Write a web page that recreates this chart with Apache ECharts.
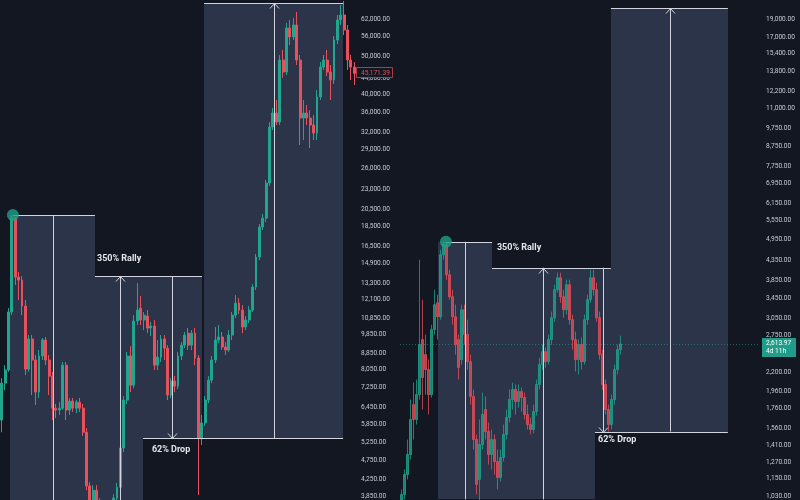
<!DOCTYPE html>
<html><head><meta charset="utf-8">
<script src="https://cdn.jsdelivr.net/npm/echarts@6/dist/echarts.min.js"></script>
<style>html,body{margin:0;padding:0;background:#131722;}#c{width:800px;height:500px;}</style>
</head><body><div id="c"></div>
<script>
// ---------- DATA ----------
// Left panel candles: [open, close, low, high]
const leftCandles = [
[5990,7430,5580,7650],[7430,8020,7130,8250],[8020,11240,7930,11500],[11240,19430,11040,19780],[19430,13780,13150,19500],
[13780,13540,12050,14190],[13540,11640,11040,13860],[11640,8060,7790,12050],[8060,9610,7930,9830],[9610,8500,6930,9830],
[8500,7050,6540,8750],[7050,8700,6810,9010],[8700,9550,8500,9660],[9550,8500,8250,9720],[8500,7740,6930,8750],
[7740,6420,5990,7930],[6420,6350,6060,6580],[6350,6420,6170,6650],[6420,8250,6350,8400],[8250,6350,5990,8400],
[6350,6690,6170,6810],[6690,6420,6280,6810],[6420,6650,6240,6730],[6650,6420,6280,6810],[6420,5580,5460,6580],
[5580,4080,3980,5720],[4080,3760,3650,4170],[3760,3980,3540,4100],[3980,3650,3440,4100],[3650,3340,3150,3800],
[3340,3440,3150,3650],[3440,3250,3120,3580],[3250,3540,3150,3650],[3540,3800,3440,3890],[3800,4050,3650,4150],
[4050,5090,3980,5180],[5090,6730,4970,6890],[6730,8700,6580,8900],[8700,7340,7050,9220],[7340,10670,7210,11040],
[10670,11370,10420,13300],[11500,10730,10420,12340],[10730,11040,10120,11240],[10980,10240,9950,11370],[10240,10360,9770,10610],
[10360,8250,8020,10730],[8250,8650,8020,9550],[8650,9610,8400,9830],[9610,9110,8500,9830],[9110,6930,6730,9270],
[6930,7520,6810,7650],[7520,7300,7050,7740],[7300,8700,7170,8900],[8700,9270,8500,9440],[9270,9830,9110,10010],
[9940,9270,9010,10240],[9270,9940,9010,10120],[9940,8600,8250,10240],[8600,5390,3870,8750],[5390,5890,5180,6170],
[5890,6730,5790,6890],[6730,7560,6610,7740],[7560,8500,7430,8700],[8500,9550,8350,10300],[9550,9720,9380,10420],
[9720,9170,9010,10010],[9170,9010,8750,9440],[9010,9830,8900,10120],[9830,11040,9550,11240],[11040,11840,10850,12410],
[11840,11370,11100,12190],[11370,10300,9940,11710],[10300,10730,10120,10980],[10730,11370,10540,11640],[11370,13000,11240,13220],
[13000,15490,12780,15760],[15490,18450,15220,18770],[18450,19430,18130,19900],[19430,23840,18990,24260],[23840,33040,23420,34010],
[33040,35840,32470,36900],[35840,34010,33430,38670],[34010,48820,33430,50270],[48820,45520,44000,51750],[45520,58820,44740,60580],
[58820,55830,53280,61640],[55830,59870,54860,62370],[59870,48820,47420,64580],[48820,34810,29750,50270],[34810,35840,30630,38670],
[35840,34810,33430,37560],[34810,33430,29230,36480],[33430,31900,30630,35430],[31900,39350,30630,40990],[39350,46850,38670,48250],
[46850,48820,46060,50270],[48820,45520,44480,51750],[45520,43450,38670,47420],[43450,54860,42440,56160],[54860,61640,53590,63460],
[61640,63460,59920,67270],[63460,58150,56480,68860],[58150,48820,46060,59870],[48820,46850,43450,50270],[46850,45171.39,42200,48250]
];
// Right panel candles: [open, close, low, high]
const rightCandles = [
[896,1043,869,1075],[1043,1178,1012,1215],[1178,1331,1143,1458],[1331,1648,1291,1861],[1805,1648,1458,2065],
[1648,1919,1598,2103],[1919,2603,1861,4371],[2684,2129,1751,3424],[2449,2235,1919,2767],[2235,1919,1699,2375],
[1919,2852,1884,2940],[2852,3322,2767,3640],[3362,3087,2684,3530],[3087,4506,3031,4645],[4506,4789,4371,4877],
[4789,3988,3869,4850],[3988,3487,3424,4112],[3487,3087,2940,3640],[3087,2603,2449,3322],[2684,2262,2103,2767],
[2375,3222,2304,3322],[3222,2767,2603,3322],[2767,2346,2235,3031],[2346,1896,1805,2449],[1896,1458,1372,1978],
[1458,1109,1043,1504],[1143,1415,981,1648],[1415,1699,1372,1942],[1751,1531,1458,1896],[1531,1331,1252,1618],
[1331,1458,1215,1550],[1458,1275,1178,1504],[1275,1157,1075,1372],[1157,1307,1129,1372],[1307,1504,1275,1598],
[1504,1668,1458,1751],[1668,1861,1618,1978],[1861,1978,1751,2065],[1978,1839,1699,2040],[1839,1954,1772,2040],
[1954,1884,1730,2003],[1884,1699,1648,1942],[1699,1598,1550,1805],[1598,1550,1504,1668],[1550,1730,1513,1805],
[1730,2040,1689,2103],[2040,2304,1978,2404],[2304,2494,2235,2603],[2494,2346,2262,2556],[2346,2684,2304,2767],
[2684,3068,2603,3184],[3068,3640,2994,3752],[3640,3916,3574,4037],[3916,3487,3362,4037],[3487,3222,3068,3640],
[3222,3752,3125,3869],[3752,3031,2940,3869],[3031,2684,2525,3125],[2684,2375,2208,2817],[2375,2603,2168,2684],
[2603,2346,2235,2717],[2346,3031,2304,3125],[3031,3424,2940,3530],[3424,3916,3362,4112],[3916,3640,3509,4112],
[3640,3068,2994,3798],[3068,2449,2375,3184],[2449,2040,1978,2525],[2040,1751,1699,2103],[1751,1598,1531,1805],
[1598,1861,1550,1919],[1861,2235,1805,2304],[2235,2525,2168,2603],[2525,2613.97,2449,2750]
];
// Price-scale tick labels
const leftTicks = [62000,56000,50000,44000,40000,36000,32000,29000,26000,23000,20500,18500,16500,14900,13300,12100,10850,9850,8850,8050,7250,6450,5850,5250,4750,4250,3850];
const rightTicks = [19000,17000,15400,13800,12200,11000,9750,8750,7750,6950,6150,5550,4950,4350,3850,3450,3050,2750,2200,1960,1760,1560,1410,1270,1150,1030];
// Visible price ranges (bottom, top)
const leftRange = [3760, 69260];
const rightRange = [1012, 21334];
// Price-range drawings (bar index from, bar index to, price low, price high)
const leftBoxes = [[2.45,27.5,3760,19780],[27.5,41.7,3760,13870],[41.7,59.1,5390,13870],[59.7,100.7,5390,68000]];
const rightBoxes = [[12.2,30.2,1012,4877],[30.2,64.5,1012,4163],[64.5,69.8,1531,4163],[69.8,108.8,1531,20300]];
// Horizontal edges (bar from, bar to, price)
const leftEdges = [[3.3,27.5,19780],[27.5,59.1,13870],[41.7,100.7,5390],[59.7,100.7,68000]];
const rightEdges = [[14.8,30.2,4877],[30.2,69.8,4163],[64.5,108.8,1531],[69.8,108.8,20300]];
// Vertical measures (bar, price from, price to, arrow at end 1/0)
const leftMeasures = [[15.1,19780,3760,0],[34.9,3760,13870,1],[50.2,13870,5390,1],[80.3,5390,68000,1]];
const rightMeasures = [[21.2,4877,1012,0],[47.2,1012,4163,1],[67.2,4163,1531,1],[89.5,1531,20300,1]];
// Text labels (bar, price)
const leftLabelPos = [[28.1,15310],[44.3,5030]];
const rightLabelPos = [[31.8,4700],[65.5,1458]];
const labelTexts = ['350% Rally','62% Drop'];
// Peak markers
const leftPeak = [[3.3,19780]];
const rightPeak = [[14.8,4877]];
// Last prices
const leftLast = 45171.39;
const rightLast = 2613.97;
const rightCountdown = '4d 11h';

// ---------- STYLE ----------
const BG = '#131722', BOX = '#2b3448', LINE = '#d1d4dc', UP = '#22a58e', DOWN = '#e8505b';
const TXT = '#c9ccd4';

function fmt(v){
  const s = Number(v).toFixed(2); const parts = s.split('.');
  return parts[0].replace(/\B(?=(\d{3})+(?!\d))/g, ',') + '.' + parts[1];
}
function renderBox(params, api){
  const a = api.coord([api.value(0), api.value(3)]);
  const b = api.coord([api.value(1), api.value(2)]);
  const x0 = Math.round(a[0]), x1 = Math.round(b[0]), y0 = Math.round(a[1]), y1 = Math.round(b[1]);
  return {type:'rect', shape:{x:x0, y:y0, width:x1-x0, height:y1-y0}, style:{fill:BOX}};
}
function renderEdge(params, api){
  const a = api.coord([api.value(0), api.value(2)]);
  const b = api.coord([api.value(1), api.value(2)]);
  const y = Math.round(a[1]) + 0.5;
  return {type:'line', shape:{x1:a[0], y1:y, x2:b[0], y2:y}, style:{stroke:LINE, lineWidth:1}};
}
function renderMeasure(params, api){
  const a = api.coord([api.value(0), api.value(1)]);
  const b = api.coord([api.value(0), api.value(2)]);
  const x = Math.round(a[0]) + 0.5;
  const children = [{type:'line', shape:{x1:x, y1:a[1], x2:x, y2:b[1]}, style:{stroke:LINE, lineWidth:1}}];
  if (api.value(3)) {
    const y = Math.round(b[1]) + 0.5;
    const d = b[1] < a[1] ? 1 : -1;
    children.push({type:'polyline', shape:{points:[[x-4.5, y+5*d],[x, y],[x+4.5, y+5*d]]}, style:{stroke:LINE, lineWidth:1, fill:null}});
  }
  return {type:'group', children};
}
function renderLabel(params, api){
  const p = api.coord([api.value(0), api.value(1)]);
  return {type:'text', x:p[0], y:p[1], style:{text:labelTexts[params.dataIndex], fill:'#e4e6eb', font:'bold 9px Roboto', align:'left', verticalAlign:'middle'}};
}
function yAxis(gridIndex, range, ticks, margin){
  return {type:'log', logBase:10, gridIndex, position:'right', min:range[0], max:range[1],
    axisLine:{show:false}, axisTick:{show:false}, splitLine:{show:false},
    axisLabel:{customValues:ticks, formatter:fmt, color:TXT, fontSize:6.6, fontFamily:'Roboto', margin}};
}
function candleSeries(idx, data, bw, op){
  return {type:'candlestick', xAxisIndex:idx, yAxisIndex:idx, z:2, barWidth:bw, silent:true,
    data:data.map((d,i)=>[i].concat(d)),
    itemStyle:{color:UP, color0:DOWN, borderColor:UP, borderColor0:DOWN, borderWidth:1, opacity:op}};
}
function customSeries(idx, data, render, encode, z){
  return {type:'custom', xAxisIndex:idx, yAxisIndex:idx, z, silent:true, data, encode, renderItem:render};
}

const option = {
  backgroundColor: BG,
  animation: false,
  grid: [{left:0, top:0, width:356, height:500}, {left:400, top:0, width:360, height:500}],
  xAxis: [{type:'value', gridIndex:0, min:-0.5, max:104.5, show:false},
          {type:'value', gridIndex:1, min:-0.5, max:119.5, show:false}],
  yAxis: [yAxis(0, leftRange, leftTicks, 5), yAxis(1, rightRange, rightTicks, 6)],
  series: [
    customSeries(0, leftBoxes, renderBox, {x:[0,1], y:[2,3]}, 1),
    customSeries(1, rightBoxes, renderBox, {x:[0,1], y:[2,3]}, 1),
    customSeries(1, [[-0.5, rightLast],[119.5, rightLast]], function(params, api){
      if (params.dataIndex !== 0) return null;
      const a = api.coord([api.value(0), api.value(1)]);
      const cs = params.coordSys;
      const y = Math.round(a[1]) + 0.5;
      return {type:'line', shape:{x1:cs.x, y1:y, x2:cs.x+cs.width, y2:y}, style:{stroke:'rgba(38,166,154,0.5)', lineWidth:1, lineDash:[1,2]}};
    }, {x:0, y:1}, 1.5),
    candleSeries(0, leftCandles, 2.4, 1),
    candleSeries(1, rightCandles, 1.8, 0.75),
    customSeries(0, leftEdges, renderEdge, {x:[0,1], y:2}, 3),
    customSeries(1, rightEdges, renderEdge, {x:[0,1], y:2}, 3),
    customSeries(0, leftMeasures, renderMeasure, {x:0, y:[1,2]}, 3),
    customSeries(1, rightMeasures, renderMeasure, {x:0, y:[1,2]}, 3),
    customSeries(0, leftLabelPos, renderLabel, {x:0, y:1}, 4),
    customSeries(1, rightLabelPos, renderLabel, {x:0, y:1}, 4),
    {type:'scatter', xAxisIndex:0, yAxisIndex:0, z:5, silent:true, data:leftPeak, symbolSize:12, itemStyle:{color:'#1fa088'}},
    {type:'scatter', xAxisIndex:1, yAxisIndex:1, z:5, silent:true, data:rightPeak, symbolSize:12, itemStyle:{color:'#1fa088'}},
    customSeries(0, [[104, leftLast]], function(params, api){
      const a = api.coord([api.value(0), api.value(1)]);
      const cs = params.coordSys;
      const x0 = cs.x + cs.width, y = Math.round(a[1]);
      return {type:'group', children:[
        {type:'rect', shape:{x:x0+0.5, y:y-5.5, width:36, height:10}, style:{fill:BG, stroke:'#b23a45', lineWidth:1}},
        {type:'text', x:x0+5, y:y, style:{text:fmt(api.value(1)), fill:'#e0525d', font:'6.6px Roboto', verticalAlign:'middle'}}
      ]};
    }, {x:0, y:1}, 6),
    customSeries(1, [[119, rightLast]], function(params, api){
      const a = api.coord([api.value(0), api.value(1)]);
      const cs = params.coordSys;
      const x0 = cs.x + cs.width, y = Math.round(a[1]);
      return {type:'group', children:[
        {type:'rect', shape:{x:x0+2, y:y-6, width:34, height:19}, style:{fill:'#1f9c8a'}},
        {type:'text', x:x0+6, y:y-1, style:{text:fmt(api.value(1)), fill:'#ffffff', font:'6.6px Roboto', verticalAlign:'middle'}},
        {type:'text', x:x0+6, y:y+7, style:{text:rightCountdown, fill:'#ffffff', font:'6.6px Roboto', verticalAlign:'middle'}}
      ]};
    }, {x:0, y:1}, 6)
  ]
};
const chart = echarts.init(document.getElementById('c'), null, {renderer:'canvas'});
chart.setOption(option);
</script>
</body></html>
